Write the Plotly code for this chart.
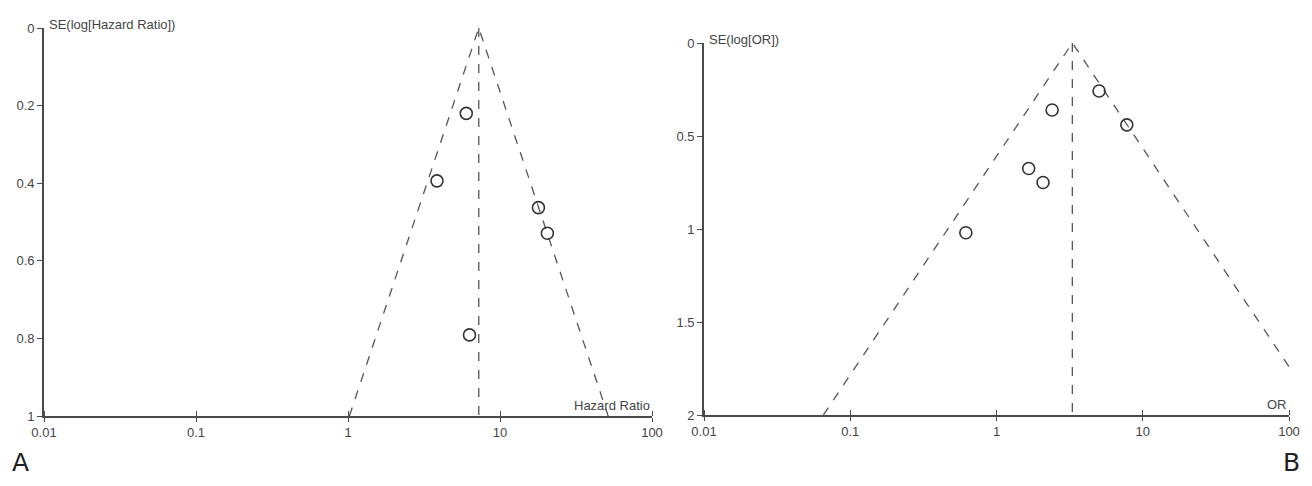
import numpy as np
import plotly.graph_objects as go

# Panel A: hazard ratios and their standard errors (log scale)
hr_values = [6.0, 3.85, 17.9, 20.5, 6.3]
hr_se = [0.22, 0.394, 0.463, 0.529, 0.791]
hr_pooled = 7.25
hr_se_max = 1.0

# Panel B: odds ratios and their standard errors
or_values = [5.03, 2.40, 7.78, 1.66, 2.08, 0.617]
or_se = [0.258, 0.360, 0.44, 0.675, 0.75, 1.02]
or_pooled = 3.3
or_se_max = 2.0

x_tickvals = [0.01, 0.1, 1, 10, 100]
x_ticktext = ["0.01", "0.1", "1", "10", "100"]
hr_yticks = [0, 0.2, 0.4, 0.6, 0.8, 1]
or_yticks = [0, 0.5, 1, 1.5, 2]

Z = 1.96
LINE_COL = "#555555"
MARK_COL = "#333333"
FONT = "Liberation Sans, Arial, sans-serif"


def funnel(center, se_max):
    # pseudo 95% confidence limits around the pooled estimate
    lo = center * np.exp(-Z * se_max)
    hi = center * np.exp(Z * se_max)
    return [lo, center, hi], [se_max, 0, se_max]


fig = go.Figure()

panels = [
    ("x", "y", hr_values, hr_se, hr_pooled, hr_se_max),
    ("x2", "y2", or_values, or_se, or_pooled, or_se_max),
]
for xa, ya, vals, ses, pooled, se_max in panels:
    fx, fy = funnel(pooled, se_max)
    fig.add_trace(go.Scatter(x=fx, y=fy, mode="lines", xaxis=xa, yaxis=ya,
                             line=dict(color=LINE_COL, width=1.3, dash="dash"),
                             hoverinfo="skip"))
    fig.add_trace(go.Scatter(x=[pooled, pooled], y=[0, se_max], mode="lines",
                             xaxis=xa, yaxis=ya,
                             line=dict(color=LINE_COL, width=1.3, dash="dash"),
                             hoverinfo="skip"))
    fig.add_trace(go.Scatter(x=vals, y=ses, mode="markers", xaxis=xa, yaxis=ya,
                             marker=dict(symbol="circle-open", size=12,
                                         color=MARK_COL, line=dict(width=1.6)),
                             cliponaxis=False))

# page body has an 8px margin, so the figure is a bit smaller than the window
OFF = 8
W, H = 1312 - 2 * OFF, 486 - 2 * OFF


def px_x(p):
    return (p - OFF) / W


def px_y(p):
    return (H - (p - OFF)) / H


tick_font = dict(size=13, color="#444", family=FONT)
xaxis_common = dict(type="log", range=[-2, 2], tickvals=x_tickvals, ticktext=x_ticktext,
                    showgrid=False, zeroline=False, showline=True, linecolor="#4a4a4a",
                    linewidth=1.6, ticks="outside", ticklen=4, tickwidth=1.3,
                    tickcolor="#4a4a4a", tickfont=tick_font, automargin=False,
                    minor=dict(ticks="inside", ticklen=5, tickwidth=1.3, tickcolor="#4a4a4a",
                               showgrid=False, dtick=1))
yaxis_common = dict(showgrid=False, zeroline=False, showline=True, linecolor="#4a4a4a",
                    linewidth=1.6, ticks="outside", ticklen=5, tickwidth=1.3,
                    tickcolor="#4a4a4a", tickfont=tick_font, automargin=False)

fig.update_layout(
    width=W, height=H,
    margin=dict(l=0, r=0, t=0, b=0, autoexpand=False),
    paper_bgcolor="white", plot_bgcolor="white",
    showlegend=False,
    xaxis=dict(domain=[px_x(44), px_x(652)], anchor="y", **xaxis_common),
    yaxis=dict(domain=[px_y(416), px_y(28)], anchor="x", range=[1, 0],
               tickvals=hr_yticks, ticktext=["0", "0.2", "0.4", "0.6", "0.8", "1"],
               **yaxis_common),
    xaxis2=dict(domain=[px_x(704), px_x(1289)], anchor="y2", **xaxis_common),
    yaxis2=dict(domain=[px_y(415), px_y(43)], anchor="x2", range=[2, 0],
                tickvals=or_yticks, ticktext=["0", "0.5", "1", "1.5", "2"],
                **yaxis_common),
)

lab_font = dict(size=13, color="#444", family=FONT)
fig.add_annotation(x=0, y=0, xref="x domain", yref="y", text="SE(log[Hazard Ratio])",
                   showarrow=False, xanchor="left", yanchor="bottom", xshift=3, yshift=-6,
                   font=lab_font)
fig.add_annotation(x=1, y=1, xref="x domain", yref="y", text="Hazard Ratio",
                   showarrow=False, xanchor="right", yanchor="bottom", yshift=1,
                   font=lab_font)
fig.add_annotation(x=0, y=0, xref="x2 domain", yref="y2", text="SE(log[OR])",
                   showarrow=False, xanchor="left", yanchor="bottom", xshift=3, yshift=-6,
                   font=lab_font)
fig.add_annotation(x=1, y=2, xref="x2 domain", yref="y2", text="OR",
                   showarrow=False, xanchor="right", yanchor="bottom", yshift=1,
                   font=lab_font)

panel_font = dict(size=25, color="#222", family="DejaVu Sans, sans-serif")
fig.add_annotation(x=px_x(10), y=px_y(462), xref="paper", yref="paper", text="A",
                   showarrow=False, xanchor="left", yanchor="middle", font=panel_font)
fig.add_annotation(x=px_x(1302), y=px_y(462), xref="paper", yref="paper", text="B",
                   showarrow=False, xanchor="right", yanchor="middle", font=panel_font)

fig.write_html("out.html")
